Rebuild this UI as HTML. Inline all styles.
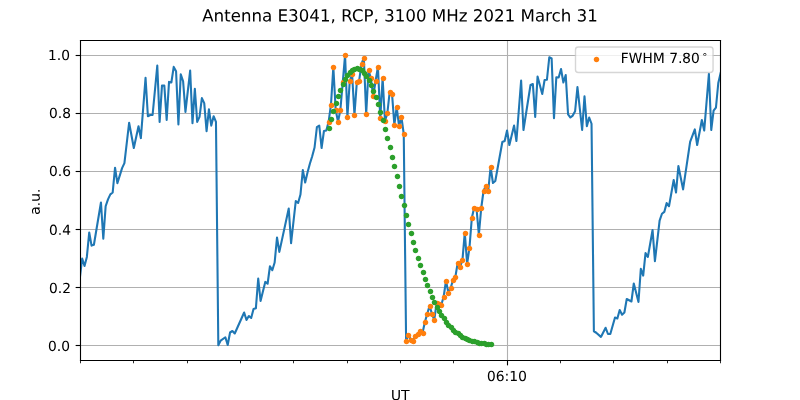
<!DOCTYPE html>
<html><head><meta charset="utf-8"><title>Antenna E3041</title>
<style>html,body{margin:0;padding:0;background:#fff;width:800px;height:400px;overflow:hidden}svg{display:block}</style>
</head><body>
<svg width="800" height="400" role="img" aria-label="Antenna E3041, RCP, 3100 MHz 2021 March 31 chart" viewBox="0 0 576 288" version="1.1">
<defs>
<style type="text/css">*{stroke-linejoin: round; stroke-linecap: butt}</style>
</defs>
<g id="figure_1">
<g id="patch_1">
<path d="M 0 288
L 576 288
L 576 0
L 0 0
z
" style="fill: #ffffff"/>
</g>
<g id="axes_1">
<g id="patch_2">
<path d="M 57.6 259.2
L 518.4 259.2
L 518.4 28.8
L 57.6 28.8
z
" style="fill: #ffffff"/>
</g>
<g id="matplotlib.axis_1">
<g id="xtick_1">
<g id="line2d_1">
<path d="M 365.4 259.56
L 365.4 29.16
" clip-path="url(#p7c551a3742)" style="fill: none; stroke: #b0b0b0; stroke-width: 0.8; stroke-linecap: square"/>
</g>
<g id="line2d_2">
<defs>
<path id="m0472bd3b97" d="M 0 0
L 0 3.5
" style="stroke: #000000; stroke-width: 0.8"/>
</defs>
<g>
<use href="#m0472bd3b97" x="365.4" y="259.56" style="stroke: #000000; stroke-width: 0.8"/>
</g>
</g>
<g id="text_1" aria-label="06:10"><title>06:10</title>
<g transform="translate(350.5706 274.3384) scale(0.1 -0.1)">
<defs>
<path id="DejaVuSans-30" d="M 2034 4250
Q 1547 4250 1301 3770
Q 1056 3291 1056 2328
Q 1056 1369 1301 889
Q 1547 409 2034 409
Q 2525 409 2770 889
Q 3016 1369 3016 2328
Q 3016 3291 2770 3770
Q 2525 4250 2034 4250
z
M 2034 4750
Q 2819 4750 3233 4129
Q 3647 3509 3647 2328
Q 3647 1150 3233 529
Q 2819 -91 2034 -91
Q 1250 -91 836 529
Q 422 1150 422 2328
Q 422 3509 836 4129
Q 1250 4750 2034 4750
z
" transform="scale(0.015625)"/>
<path id="DejaVuSans-36" d="M 2113 2584
Q 1688 2584 1439 2293
Q 1191 2003 1191 1497
Q 1191 994 1439 701
Q 1688 409 2113 409
Q 2538 409 2786 701
Q 3034 994 3034 1497
Q 3034 2003 2786 2293
Q 2538 2584 2113 2584
z
M 3366 4563
L 3366 3988
Q 3128 4100 2886 4159
Q 2644 4219 2406 4219
Q 1781 4219 1451 3797
Q 1122 3375 1075 2522
Q 1259 2794 1537 2939
Q 1816 3084 2150 3084
Q 2853 3084 3261 2657
Q 3669 2231 3669 1497
Q 3669 778 3244 343
Q 2819 -91 2113 -91
Q 1303 -91 875 529
Q 447 1150 447 2328
Q 447 3434 972 4092
Q 1497 4750 2381 4750
Q 2619 4750 2861 4703
Q 3103 4656 3366 4563
z
" transform="scale(0.015625)"/>
<path id="DejaVuSans-3a" d="M 750 794
L 1409 794
L 1409 0
L 750 0
L 750 794
z
M 750 3309
L 1409 3309
L 1409 2516
L 750 2516
L 750 3309
z
" transform="scale(0.015625)"/>
<path id="DejaVuSans-31" d="M 794 531
L 1825 531
L 1825 4091
L 703 3866
L 703 4441
L 1819 4666
L 2450 4666
L 2450 531
L 3481 531
L 3481 0
L 794 0
L 794 531
z
" transform="scale(0.015625)"/>
</defs>
<use href="#DejaVuSans-30"/>
<use href="#DejaVuSans-36" transform="translate(63.623047 0)"/>
<use href="#DejaVuSans-3a" transform="translate(127.246094 0)"/>
<use href="#DejaVuSans-31" transform="translate(160.9375 0)"/>
<use href="#DejaVuSans-30" transform="translate(224.560547 0)"/>
</g>
</g>
</g>
<g id="xtick_2">
<g id="line2d_3">
<defs>
<path id="m4685874735" d="M 0 0
L 0 2
" style="stroke: #000000; stroke-width: 0.6"/>
</defs>
<g>
<use href="#m4685874735" x="57.96" y="259.56" style="stroke: #000000; stroke-width: 0.6"/>
</g>
</g>
</g>
<g id="xtick_3">
<g id="line2d_4">
<g>
<use href="#m4685874735" x="96.12" y="259.56" style="stroke: #000000; stroke-width: 0.6"/>
</g>
</g>
</g>
<g id="xtick_4">
<g id="line2d_5">
<g>
<use href="#m4685874735" x="135" y="259.56" style="stroke: #000000; stroke-width: 0.6"/>
</g>
</g>
</g>
<g id="xtick_5">
<g id="line2d_6">
<g>
<use href="#m4685874735" x="173.16" y="259.56" style="stroke: #000000; stroke-width: 0.6"/>
</g>
</g>
</g>
<g id="xtick_6">
<g id="line2d_7">
<g>
<use href="#m4685874735" x="211.32" y="259.56" style="stroke: #000000; stroke-width: 0.6"/>
</g>
</g>
</g>
<g id="xtick_7">
<g id="line2d_8">
<g>
<use href="#m4685874735" x="250.2" y="259.56" style="stroke: #000000; stroke-width: 0.6"/>
</g>
</g>
</g>
<g id="xtick_8">
<g id="line2d_9">
<g>
<use href="#m4685874735" x="288.36" y="259.56" style="stroke: #000000; stroke-width: 0.6"/>
</g>
</g>
</g>
<g id="xtick_9">
<g id="line2d_10">
<g>
<use href="#m4685874735" x="326.52" y="259.56" style="stroke: #000000; stroke-width: 0.6"/>
</g>
</g>
</g>
<g id="xtick_10">
<g id="line2d_11">
<g>
<use href="#m4685874735" x="403.56" y="259.56" style="stroke: #000000; stroke-width: 0.6"/>
</g>
</g>
</g>
<g id="xtick_11">
<g id="line2d_12">
<g>
<use href="#m4685874735" x="441.72" y="259.56" style="stroke: #000000; stroke-width: 0.6"/>
</g>
</g>
</g>
<g id="xtick_12">
<g id="line2d_13">
<g>
<use href="#m4685874735" x="480.6" y="259.56" style="stroke: #000000; stroke-width: 0.6"/>
</g>
</g>
</g>
<g id="xtick_13">
<g id="line2d_14">
<g>
<use href="#m4685874735" x="518.76" y="259.56" style="stroke: #000000; stroke-width: 0.6"/>
</g>
</g>
</g>
<g id="text_2" aria-label="UT"><title>UT</title>
<g transform="translate(281.4667 288.0166) scale(0.1 -0.1)">
<defs>
<path id="DejaVuSans-55" d="M 556 4666
L 1191 4666
L 1191 1831
Q 1191 1081 1462 751
Q 1734 422 2344 422
Q 2950 422 3222 751
Q 3494 1081 3494 1831
L 3494 4666
L 4128 4666
L 4128 1753
Q 4128 841 3676 375
Q 3225 -91 2344 -91
Q 1459 -91 1007 375
Q 556 841 556 1753
L 556 4666
z
" transform="scale(0.015625)"/>
<path id="DejaVuSans-54" d="M -19 4666
L 3928 4666
L 3928 4134
L 2272 4134
L 2272 0
L 1638 0
L 1638 4134
L -19 4134
L -19 4666
z
" transform="scale(0.015625)"/>
</defs>
<use href="#DejaVuSans-55"/>
<use href="#DejaVuSans-54" transform="translate(73.193359 0)"/>
</g>
</g>
</g>
<g id="matplotlib.axis_2">
<g id="ytick_1">
<g id="line2d_15">
<path d="M 57.96 248.76
L 518.76 248.76
" clip-path="url(#p7c551a3742)" style="fill: none; stroke: #b0b0b0; stroke-width: 0.8; stroke-linecap: square"/>
</g>
<g id="line2d_16">
<defs>
<path id="m8931611dd1" d="M 0 0
L -3.5 0
" style="stroke: #000000; stroke-width: 0.8"/>
</defs>
<g>
<use href="#m8931611dd1" x="57.96" y="248.76" style="stroke: #000000; stroke-width: 0.8"/>
</g>
</g>
<g id="text_3" aria-label="0.0"><title>0.0</title>
<g transform="translate(34.5169 252.7065) scale(0.1 -0.1)">
<defs>
<path id="DejaVuSans-2e" d="M 684 794
L 1344 794
L 1344 0
L 684 0
L 684 794
z
" transform="scale(0.015625)"/>
</defs>
<use href="#DejaVuSans-30"/>
<use href="#DejaVuSans-2e" transform="translate(63.623047 0)"/>
<use href="#DejaVuSans-30" transform="translate(95.410156 0)"/>
</g>
</g>
</g>
<g id="ytick_2">
<g id="line2d_17">
<path d="M 57.96 207
L 518.76 207
" clip-path="url(#p7c551a3742)" style="fill: none; stroke: #b0b0b0; stroke-width: 0.8; stroke-linecap: square"/>
</g>
<g id="line2d_18">
<g>
<use href="#m8931611dd1" x="57.96" y="207" style="stroke: #000000; stroke-width: 0.8"/>
</g>
</g>
<g id="text_4" aria-label="0.2"><title>0.2</title>
<g transform="translate(35.2369 210.9956) scale(0.1 -0.1)">
<defs>
<path id="DejaVuSans-32" d="M 1228 531
L 3431 531
L 3431 0
L 469 0
L 469 531
Q 828 903 1448 1529
Q 2069 2156 2228 2338
Q 2531 2678 2651 2914
Q 2772 3150 2772 3378
Q 2772 3750 2511 3984
Q 2250 4219 1831 4219
Q 1534 4219 1204 4116
Q 875 4013 500 3803
L 500 4441
Q 881 4594 1212 4672
Q 1544 4750 1819 4750
Q 2544 4750 2975 4387
Q 3406 4025 3406 3419
Q 3406 3131 3298 2873
Q 3191 2616 2906 2266
Q 2828 2175 2409 1742
Q 1991 1309 1228 531
z
" transform="scale(0.015625)"/>
</defs>
<use href="#DejaVuSans-30"/>
<use href="#DejaVuSans-2e" transform="translate(63.623047 0)"/>
<use href="#DejaVuSans-32" transform="translate(95.410156 0)"/>
</g>
</g>
</g>
<g id="ytick_3">
<g id="line2d_19">
<path d="M 57.96 165.24
L 518.76 165.24
" clip-path="url(#p7c551a3742)" style="fill: none; stroke: #b0b0b0; stroke-width: 0.8; stroke-linecap: square"/>
</g>
<g id="line2d_20">
<g>
<use href="#m8931611dd1" x="57.96" y="165.24" style="stroke: #000000; stroke-width: 0.8"/>
</g>
</g>
<g id="text_5" aria-label="0.4"><title>0.4</title>
<g transform="translate(35.2369 169.1047) scale(0.1 -0.1)">
<defs>
<path id="DejaVuSans-34" d="M 2419 4116
L 825 1625
L 2419 1625
L 2419 4116
z
M 2253 4666
L 3047 4666
L 3047 1625
L 3713 1625
L 3713 1100
L 3047 1100
L 3047 0
L 2419 0
L 2419 1100
L 313 1100
L 313 1709
L 2253 4666
z
" transform="scale(0.015625)"/>
</defs>
<use href="#DejaVuSans-30"/>
<use href="#DejaVuSans-2e" transform="translate(63.623047 0)"/>
<use href="#DejaVuSans-34" transform="translate(95.410156 0)"/>
</g>
</g>
</g>
<g id="ytick_4">
<g id="line2d_21">
<path d="M 57.96 123.48
L 518.76 123.48
" clip-path="url(#p7c551a3742)" style="fill: none; stroke: #b0b0b0; stroke-width: 0.8; stroke-linecap: square"/>
</g>
<g id="line2d_22">
<g>
<use href="#m8931611dd1" x="57.96" y="123.48" style="stroke: #000000; stroke-width: 0.8"/>
</g>
</g>
<g id="text_6" aria-label="0.6"><title>0.6</title>
<g transform="translate(35.2369 126.6738) scale(0.1 -0.1)">
<use href="#DejaVuSans-30"/>
<use href="#DejaVuSans-2e" transform="translate(63.623047 0)"/>
<use href="#DejaVuSans-36" transform="translate(95.410156 0)"/>
</g>
</g>
</g>
<g id="ytick_5">
<g id="line2d_23">
<path d="M 57.96 81.72
L 518.76 81.72
" clip-path="url(#p7c551a3742)" style="fill: none; stroke: #b0b0b0; stroke-width: 0.8; stroke-linecap: square"/>
</g>
<g id="line2d_24">
<g>
<use href="#m8931611dd1" x="57.96" y="81.72" style="stroke: #000000; stroke-width: 0.8"/>
</g>
</g>
<g id="text_7" aria-label="0.8"><title>0.8</title>
<g transform="translate(35.2369 84.9629) scale(0.1 -0.1)">
<defs>
<path id="DejaVuSans-38" d="M 2034 2216
Q 1584 2216 1326 1975
Q 1069 1734 1069 1313
Q 1069 891 1326 650
Q 1584 409 2034 409
Q 2484 409 2743 651
Q 3003 894 3003 1313
Q 3003 1734 2745 1975
Q 2488 2216 2034 2216
z
M 1403 2484
Q 997 2584 770 2862
Q 544 3141 544 3541
Q 544 4100 942 4425
Q 1341 4750 2034 4750
Q 2731 4750 3128 4425
Q 3525 4100 3525 3541
Q 3525 3141 3298 2862
Q 3072 2584 2669 2484
Q 3125 2378 3379 2068
Q 3634 1759 3634 1313
Q 3634 634 3220 271
Q 2806 -91 2034 -91
Q 1263 -91 848 271
Q 434 634 434 1313
Q 434 1759 690 2068
Q 947 2378 1403 2484
z
M 1172 3481
Q 1172 3119 1398 2916
Q 1625 2713 2034 2713
Q 2441 2713 2670 2916
Q 2900 3119 2900 3481
Q 2900 3844 2670 4047
Q 2441 4250 2034 4250
Q 1625 4250 1398 4047
Q 1172 3844 1172 3481
z
" transform="scale(0.015625)"/>
</defs>
<use href="#DejaVuSans-30"/>
<use href="#DejaVuSans-2e" transform="translate(63.623047 0)"/>
<use href="#DejaVuSans-38" transform="translate(95.410156 0)"/>
</g>
</g>
</g>
<g id="ytick_6">
<g id="line2d_25">
<path d="M 57.96 39.96
L 518.76 39.96
" clip-path="url(#p7c551a3742)" style="fill: none; stroke: #b0b0b0; stroke-width: 0.8; stroke-linecap: square"/>
</g>
<g id="line2d_26">
<g>
<use href="#m8931611dd1" x="57.96" y="39.96" style="stroke: #000000; stroke-width: 0.8"/>
</g>
</g>
<g id="text_8" aria-label="1.0"><title>1.0</title>
<g transform="translate(34.5169 43.2519) scale(0.1 -0.1)">
<use href="#DejaVuSans-31"/>
<use href="#DejaVuSans-2e" transform="translate(63.623047 0)"/>
<use href="#DejaVuSans-30" transform="translate(95.410156 0)"/>
</g>
</g>
</g>
<g id="text_9" aria-label="a.u."><title>a.u.</title>
<g transform="translate(28.6172 154.6709) rotate(-90) scale(0.1 -0.1)">
<defs>
<path id="DejaVuSans-61" d="M 2194 1759
Q 1497 1759 1228 1600
Q 959 1441 959 1056
Q 959 750 1161 570
Q 1363 391 1709 391
Q 2188 391 2477 730
Q 2766 1069 2766 1631
L 2766 1759
L 2194 1759
z
M 3341 1997
L 3341 0
L 2766 0
L 2766 531
Q 2569 213 2275 61
Q 1981 -91 1556 -91
Q 1019 -91 701 211
Q 384 513 384 1019
Q 384 1609 779 1909
Q 1175 2209 1959 2209
L 2766 2209
L 2766 2266
Q 2766 2663 2505 2880
Q 2244 3097 1772 3097
Q 1472 3097 1187 3025
Q 903 2953 641 2809
L 641 3341
Q 956 3463 1253 3523
Q 1550 3584 1831 3584
Q 2591 3584 2966 3190
Q 3341 2797 3341 1997
z
" transform="scale(0.015625)"/>
<path id="DejaVuSans-75" d="M 544 1381
L 544 3500
L 1119 3500
L 1119 1403
Q 1119 906 1312 657
Q 1506 409 1894 409
Q 2359 409 2629 706
Q 2900 1003 2900 1516
L 2900 3500
L 3475 3500
L 3475 0
L 2900 0
L 2900 538
Q 2691 219 2414 64
Q 2138 -91 1772 -91
Q 1169 -91 856 284
Q 544 659 544 1381
z
M 1991 3584
L 1991 3584
z
" transform="scale(0.015625)"/>
</defs>
<use href="#DejaVuSans-61"/>
<use href="#DejaVuSans-2e" transform="translate(61.279297 0)"/>
<use href="#DejaVuSans-75" transform="translate(93.066406 0)"/>
<use href="#DejaVuSans-2e" transform="translate(156.445312 0)"/>
</g>
</g>
</g>
<g id="line2d_27">
<path d="M 57.474 200.160018
L 59.164056 186.120013
L 60.854112 191.520015
L 62.544168 184.968013
L 64.234224 167.400007
L 65.92428 176.83201
L 67.614336 176.22001
L 72.684504 145.800001
L 74.37456 171.900009
L 76.064616 148.500001
L 77.754672 143.568
L 79.444728 139.967999
L 81.134784 138.599998
L 82.82484 120.779993
L 84.514896 131.831996
L 87.895008 121.031993
L 89.585064 117.431992
L 92.965176 88.379983
L 96.345288 106.559988
L 99.7254 90.899983
L 101.415456 99.431986
L 104.795568 55.979972
L 106.485624 83.699981
L 108.17568 82.799981
L 109.865736 82.799981
L 113.245848 47.23197
L 114.935904 87.767982
L 116.62596 61.631974
L 118.316016 61.631974
L 120.006072 86.399982
L 121.696128 58.967973
L 123.386184 59.399974
L 125.07624 48.16797
L 126.766296 51.299971
L 128.456352 89.567983
L 130.146408 53.567972
L 131.836464 58.499973
L 133.52652 80.56798
L 136.906632 50.831971
L 138.596688 88.631983
L 140.286744 63.899975
L 141.9768 87.767982
L 143.666856 84.167981
L 145.356912 70.631977
L 147.046968 74.231978
L 148.737024 94.499985
L 150.42708 78.76798
L 152.117136 90.431983
L 153.807192 83.699981
L 155.497248 87.767982
L 157.187304 248.580033
L 158.87736 245.232032
L 162.257472 242.820031
L 163.947528 248.400033
L 165.637584 239.40003
L 167.32764 238.320029
L 169.017696 240.12003
L 175.77792 225.000025
L 177.467976 230.400027
L 179.158032 227.520026
L 180.848088 228.960027
L 182.538144 222.480025
L 184.2282 221.976024
L 185.918256 200.520018
L 187.608312 216.720023
L 190.988424 202.968018
L 192.67848 204.300019
L 194.368536 191.700015
L 196.058592 194.580016
L 197.748648 189.000014
L 199.438704 171.000008
L 201.12876 181.368012
L 207.888984 150.120002
L 209.57904 175.03201
L 212.959152 144.72
L 214.649208 146.160001
L 216.339264 140.039999
L 218.02932 122.399993
L 219.719376 131.399996
L 221.409432 124.199994
L 223.099488 117.899992
L 224.789544 112.49999
L 226.4796 106.199988
L 228.169656 91.583984
L 229.859712 90.359983
L 231.549768 106.559988
L 233.239824 94.319984
L 234.92988 93.959984
L 236.619936 87.623982
L 238.309992 75.383979
L 240.000048 48.23997
L 241.690104 79.19998
L 243.38016 87.623982
L 245.070216 79.19998
L 248.450328 39.599967
L 250.140384 84.023981
L 251.83044 58.319973
L 253.520496 53.495972
L 255.210552 82.727981
L 256.900608 59.399974
L 258.590664 58.103973
L 260.28072 46.079969
L 261.970776 41.759968
L 263.660832 82.079981
L 265.350888 50.399971
L 267.040944 56.519973
L 268.731 69.119977
L 270.421056 58.319973
L 272.111112 48.23997
L 273.801168 85.319982
L 275.491224 56.159973
L 277.18128 87.119982
L 278.871336 81.719981
L 280.561392 66.239976
L 282.251448 67.463976
L 283.941504 89.855983
L 285.63156 77.039979
L 287.321616 91.079983
L 289.011672 84.239981
L 290.701728 96.479985
L 292.391784 245.340032
L 294.08184 241.12803
L 295.771896 244.620031
L 297.461952 245.340032
L 299.152008 241.920031
L 300.842064 240.40803
L 302.53212 238.60803
L 304.222176 239.76003
L 305.912232 231.840027
L 309.292344 220.140024
L 310.9824 226.008026
L 312.672456 230.220027
L 314.362512 218.340023
L 317.742624 219.420024
L 319.43268 213.660022
L 321.122736 202.140018
L 322.812792 210.672021
L 324.502848 207.36002
L 326.192904 201.420018
L 327.88296 199.260017
L 329.573016 189.072014
L 331.263072 192.060015
L 332.953128 187.272014
L 334.643184 167.472007
L 336.33324 190.008014
L 338.023296 178.272011
L 339.713352 156.960004
L 341.403408 149.472002
L 343.093464 150.120002
L 344.78352 169.020008
L 346.473576 149.940002
L 348.163632 137.339998
L 349.853688 133.739997
L 351.543744 137.339998
L 353.2338 120.239993
L 354.923856 131.759996
L 356.613912 130.319996
L 361.68408 102.239987
L 363.374136 101.519987
L 365.064192 93.959984
L 366.754248 104.399988
L 370.13436 90.431983
L 371.824416 101.519987
L 375.204528 57.959973
L 376.894584 93.599984
L 381.964752 61.199974
L 383.654808 60.479974
L 385.344864 84.167981
L 387.03492 55.079972
L 390.415032 67.679976
L 392.105088 57.599973
L 393.795144 57.419973
L 395.4852 41.219968
L 397.175256 42.119968
L 398.865312 85.031982
L 400.555368 55.619972
L 402.245424 55.799972
L 403.93548 49.679971
L 405.625536 59.399974
L 407.315592 53.999972
L 409.005648 82.367981
L 410.695704 84.599981
L 412.38576 83.231981
L 414.075816 80.09998
L 415.765872 62.639975
L 419.145984 93.599984
L 420.83604 69.299977
L 422.526096 90.899983
L 424.216152 84.599981
L 425.906208 89.099983
L 427.596264 238.50003
L 429.28632 239.58003
L 432.666432 242.568031
L 436.046544 235.980029
L 437.7366 240.48003
L 439.426656 240.48003
L 442.806768 228.600026
L 444.496824 229.320027
L 446.18688 223.200025
L 447.876936 226.620026
L 449.566992 225.000025
L 451.257048 215.280022
L 454.63716 217.080023
L 456.327216 204.120019
L 459.707328 217.368023
L 461.397384 193.500015
L 463.08744 198.432017
L 464.777496 182.232012
L 466.467552 184.968013
L 469.847664 165.600007
L 471.53772 188.100014
L 474.917832 158.832005
L 476.607888 153.900003
L 478.297944 152.568003
L 479.988 146.250001
L 481.678056 148.500001
L 485.058168 129.599995
L 486.748224 138.599998
L 488.43828 119.519992
L 491.818392 136.367998
L 496.88856 102.167987
L 500.268672 93.167984
L 501.958728 104.399988
L 505.33884 86.399982
L 507.028896 94.031984
L 510.409008 53.099972
L 512.099064 93.599984
L 513.78912 79.63198
L 515.479176 77.471979
L 517.169232 59.759974
L 518.859288 52.559971
L 518.859288 52.559971
" clip-path="url(#p7c551a3742)" style="fill: none; stroke: #1f77b4; stroke-width: 1.5; stroke-linecap: square"/>
</g>
<g id="line2d_28">
<defs>
<path id="mf9a46fe128" d="M 0 1.5
C 0.397805 1.5 0.77937 1.341951 1.06066 1.06066
C 1.341951 0.77937 1.5 0.397805 1.5 0
C 1.5 -0.397805 1.341951 -0.77937 1.06066 -1.06066
C 0.77937 -1.341951 0.397805 -1.5 0 -1.5
C -0.397805 -1.5 -0.77937 -1.341951 -1.06066 -1.06066
C -1.341951 -0.77937 -1.5 -0.397805 -1.5 0
C -1.5 0.397805 -1.341951 0.77937 -1.06066 1.06066
C -0.77937 1.341951 -0.397805 1.5 0 1.5
z
" style="stroke: #ff7f0e"/>
</defs>
<g clip-path="url(#p7c551a3742)">
<use href="#mf9a46fe128" x="237.24" y="88.2" style="fill: #ff7f0e; stroke: #ff7f0e"/>
<use href="#mf9a46fe128" x="238.68" y="75.96" style="fill: #ff7f0e; stroke: #ff7f0e"/>
<use href="#mf9a46fe128" x="240.12" y="48.6" style="fill: #ff7f0e; stroke: #ff7f0e"/>
<use href="#mf9a46fe128" x="242.28" y="79.56" style="fill: #ff7f0e; stroke: #ff7f0e"/>
<use href="#mf9a46fe128" x="243.72" y="88.2" style="fill: #ff7f0e; stroke: #ff7f0e"/>
<use href="#mf9a46fe128" x="245.16" y="79.56" style="fill: #ff7f0e; stroke: #ff7f0e"/>
<use href="#mf9a46fe128" x="247.32" y="59.4" style="fill: #ff7f0e; stroke: #ff7f0e"/>
<use href="#mf9a46fe128" x="248.76" y="39.96" style="fill: #ff7f0e; stroke: #ff7f0e"/>
<use href="#mf9a46fe128" x="250.2" y="84.6" style="fill: #ff7f0e; stroke: #ff7f0e"/>
<use href="#mf9a46fe128" x="252.36" y="58.68" style="fill: #ff7f0e; stroke: #ff7f0e"/>
<use href="#mf9a46fe128" x="253.8" y="53.64" style="fill: #ff7f0e; stroke: #ff7f0e"/>
<use href="#mf9a46fe128" x="255.24" y="83.16" style="fill: #ff7f0e; stroke: #ff7f0e"/>
<use href="#mf9a46fe128" x="257.4" y="59.4" style="fill: #ff7f0e; stroke: #ff7f0e"/>
<use href="#mf9a46fe128" x="258.84" y="58.68" style="fill: #ff7f0e; stroke: #ff7f0e"/>
<use href="#mf9a46fe128" x="261" y="46.44" style="fill: #ff7f0e; stroke: #ff7f0e"/>
<use href="#mf9a46fe128" x="262.44" y="42.12" style="fill: #ff7f0e; stroke: #ff7f0e"/>
<use href="#mf9a46fe128" x="263.88" y="82.44" style="fill: #ff7f0e; stroke: #ff7f0e"/>
<use href="#mf9a46fe128" x="266.04" y="50.76" style="fill: #ff7f0e; stroke: #ff7f0e"/>
<use href="#mf9a46fe128" x="267.48" y="56.52" style="fill: #ff7f0e; stroke: #ff7f0e"/>
<use href="#mf9a46fe128" x="268.92" y="69.48" style="fill: #ff7f0e; stroke: #ff7f0e"/>
<use href="#mf9a46fe128" x="271.08" y="58.68" style="fill: #ff7f0e; stroke: #ff7f0e"/>
<use href="#mf9a46fe128" x="272.52" y="48.6" style="fill: #ff7f0e; stroke: #ff7f0e"/>
<use href="#mf9a46fe128" x="273.96" y="85.32" style="fill: #ff7f0e; stroke: #ff7f0e"/>
<use href="#mf9a46fe128" x="276.12" y="56.52" style="fill: #ff7f0e; stroke: #ff7f0e"/>
<use href="#mf9a46fe128" x="277.56" y="87.48" style="fill: #ff7f0e; stroke: #ff7f0e"/>
<use href="#mf9a46fe128" x="279" y="81.72" style="fill: #ff7f0e; stroke: #ff7f0e"/>
<use href="#mf9a46fe128" x="281.16" y="66.6" style="fill: #ff7f0e; stroke: #ff7f0e"/>
<use href="#mf9a46fe128" x="282.6" y="68.04" style="fill: #ff7f0e; stroke: #ff7f0e"/>
<use href="#mf9a46fe128" x="284.04" y="90.36" style="fill: #ff7f0e; stroke: #ff7f0e"/>
<use href="#mf9a46fe128" x="286.2" y="77.4" style="fill: #ff7f0e; stroke: #ff7f0e"/>
<use href="#mf9a46fe128" x="287.64" y="91.08" style="fill: #ff7f0e; stroke: #ff7f0e"/>
<use href="#mf9a46fe128" x="289.08" y="84.6" style="fill: #ff7f0e; stroke: #ff7f0e"/>
<use href="#mf9a46fe128" x="291.24" y="96.84" style="fill: #ff7f0e; stroke: #ff7f0e"/>
<use href="#mf9a46fe128" x="292.68" y="245.88" style="fill: #ff7f0e; stroke: #ff7f0e"/>
<use href="#mf9a46fe128" x="294.12" y="241.56" style="fill: #ff7f0e; stroke: #ff7f0e"/>
<use href="#mf9a46fe128" x="296.28" y="245.16" style="fill: #ff7f0e; stroke: #ff7f0e"/>
<use href="#mf9a46fe128" x="297.72" y="245.88" style="fill: #ff7f0e; stroke: #ff7f0e"/>
<use href="#mf9a46fe128" x="299.16" y="242.28" style="fill: #ff7f0e; stroke: #ff7f0e"/>
<use href="#mf9a46fe128" x="301.32" y="240.84" style="fill: #ff7f0e; stroke: #ff7f0e"/>
<use href="#mf9a46fe128" x="302.76" y="238.68" style="fill: #ff7f0e; stroke: #ff7f0e"/>
<use href="#mf9a46fe128" x="304.92" y="240.12" style="fill: #ff7f0e; stroke: #ff7f0e"/>
<use href="#mf9a46fe128" x="306.36" y="232.2" style="fill: #ff7f0e; stroke: #ff7f0e"/>
<use href="#mf9a46fe128" x="307.8" y="226.44" style="fill: #ff7f0e; stroke: #ff7f0e"/>
<use href="#mf9a46fe128" x="309.96" y="220.68" style="fill: #ff7f0e; stroke: #ff7f0e"/>
<use href="#mf9a46fe128" x="311.4" y="226.44" style="fill: #ff7f0e; stroke: #ff7f0e"/>
<use href="#mf9a46fe128" x="312.84" y="230.76" style="fill: #ff7f0e; stroke: #ff7f0e"/>
<use href="#mf9a46fe128" x="315" y="218.52" style="fill: #ff7f0e; stroke: #ff7f0e"/>
<use href="#mf9a46fe128" x="316.44" y="219.24" style="fill: #ff7f0e; stroke: #ff7f0e"/>
<use href="#mf9a46fe128" x="317.88" y="219.96" style="fill: #ff7f0e; stroke: #ff7f0e"/>
<use href="#mf9a46fe128" x="320.04" y="214.2" style="fill: #ff7f0e; stroke: #ff7f0e"/>
<use href="#mf9a46fe128" x="321.48" y="202.68" style="fill: #ff7f0e; stroke: #ff7f0e"/>
<use href="#mf9a46fe128" x="322.92" y="211.32" style="fill: #ff7f0e; stroke: #ff7f0e"/>
<use href="#mf9a46fe128" x="325.08" y="207.72" style="fill: #ff7f0e; stroke: #ff7f0e"/>
<use href="#mf9a46fe128" x="326.52" y="201.96" style="fill: #ff7f0e; stroke: #ff7f0e"/>
<use href="#mf9a46fe128" x="327.96" y="199.8" style="fill: #ff7f0e; stroke: #ff7f0e"/>
<use href="#mf9a46fe128" x="330.12" y="189.72" style="fill: #ff7f0e; stroke: #ff7f0e"/>
<use href="#mf9a46fe128" x="331.56" y="192.6" style="fill: #ff7f0e; stroke: #ff7f0e"/>
<use href="#mf9a46fe128" x="333" y="187.56" style="fill: #ff7f0e; stroke: #ff7f0e"/>
<use href="#mf9a46fe128" x="335.16" y="168.12" style="fill: #ff7f0e; stroke: #ff7f0e"/>
<use href="#mf9a46fe128" x="336.6" y="190.44" style="fill: #ff7f0e; stroke: #ff7f0e"/>
<use href="#mf9a46fe128" x="338.04" y="178.92" style="fill: #ff7f0e; stroke: #ff7f0e"/>
<use href="#mf9a46fe128" x="340.2" y="157.32" style="fill: #ff7f0e; stroke: #ff7f0e"/>
<use href="#mf9a46fe128" x="341.64" y="150.12" style="fill: #ff7f0e; stroke: #ff7f0e"/>
<use href="#mf9a46fe128" x="343.8" y="150.84" style="fill: #ff7f0e; stroke: #ff7f0e"/>
<use href="#mf9a46fe128" x="345.24" y="169.56" style="fill: #ff7f0e; stroke: #ff7f0e"/>
<use href="#mf9a46fe128" x="346.68" y="150.12" style="fill: #ff7f0e; stroke: #ff7f0e"/>
<use href="#mf9a46fe128" x="348.84" y="137.88" style="fill: #ff7f0e; stroke: #ff7f0e"/>
<use href="#mf9a46fe128" x="350.28" y="134.28" style="fill: #ff7f0e; stroke: #ff7f0e"/>
<use href="#mf9a46fe128" x="351.72" y="137.88" style="fill: #ff7f0e; stroke: #ff7f0e"/>
<use href="#mf9a46fe128" x="353.88" y="120.6" style="fill: #ff7f0e; stroke: #ff7f0e"/>
</g>
</g>
<g id="line2d_29">
<defs>
<path id="m9bd40142fb" d="M 0 1.5
C 0.397805 1.5 0.77937 1.341951 1.06066 1.06066
C 1.341951 0.77937 1.5 0.397805 1.5 0
C 1.5 -0.397805 1.341951 -0.77937 1.06066 -1.06066
C 0.77937 -1.341951 0.397805 -1.5 0 -1.5
C -0.397805 -1.5 -0.77937 -1.341951 -1.06066 -1.06066
C -1.341951 -0.77937 -1.5 -0.397805 -1.5 0
C -1.5 0.397805 -1.341951 0.77937 -1.06066 1.06066
C -0.77937 1.341951 -0.397805 1.5 0 1.5
z
" style="stroke: #2ca02c"/>
</defs>
<g clip-path="url(#p7c551a3742)">
<use href="#m9bd40142fb" x="237.24" y="92.52" style="fill: #2ca02c; stroke: #2ca02c"/>
<use href="#m9bd40142fb" x="238.68" y="86.04" style="fill: #2ca02c; stroke: #2ca02c"/>
<use href="#m9bd40142fb" x="240.12" y="80.28" style="fill: #2ca02c; stroke: #2ca02c"/>
<use href="#m9bd40142fb" x="242.28" y="74.52" style="fill: #2ca02c; stroke: #2ca02c"/>
<use href="#m9bd40142fb" x="243.72" y="69.48" style="fill: #2ca02c; stroke: #2ca02c"/>
<use href="#m9bd40142fb" x="245.16" y="65.16" style="fill: #2ca02c; stroke: #2ca02c"/>
<use href="#m9bd40142fb" x="247.32" y="60.84" style="fill: #2ca02c; stroke: #2ca02c"/>
<use href="#m9bd40142fb" x="248.76" y="57.24" style="fill: #2ca02c; stroke: #2ca02c"/>
<use href="#m9bd40142fb" x="250.2" y="54.36" style="fill: #2ca02c; stroke: #2ca02c"/>
<use href="#m9bd40142fb" x="252.36" y="52.2" style="fill: #2ca02c; stroke: #2ca02c"/>
<use href="#m9bd40142fb" x="253.8" y="50.76" style="fill: #2ca02c; stroke: #2ca02c"/>
<use href="#m9bd40142fb" x="255.24" y="50.04" style="fill: #2ca02c; stroke: #2ca02c"/>
<use href="#m9bd40142fb" x="257.4" y="49.32" style="fill: #2ca02c; stroke: #2ca02c"/>
<use href="#m9bd40142fb" x="258.84" y="50.04" style="fill: #2ca02c; stroke: #2ca02c"/>
<use href="#m9bd40142fb" x="261" y="50.76" style="fill: #2ca02c; stroke: #2ca02c"/>
<use href="#m9bd40142fb" x="262.44" y="52.92" style="fill: #2ca02c; stroke: #2ca02c"/>
<use href="#m9bd40142fb" x="263.88" y="55.08" style="fill: #2ca02c; stroke: #2ca02c"/>
<use href="#m9bd40142fb" x="266.04" y="57.96" style="fill: #2ca02c; stroke: #2ca02c"/>
<use href="#m9bd40142fb" x="267.48" y="61.56" style="fill: #2ca02c; stroke: #2ca02c"/>
<use href="#m9bd40142fb" x="268.92" y="65.88" style="fill: #2ca02c; stroke: #2ca02c"/>
<use href="#m9bd40142fb" x="271.08" y="70.2" style="fill: #2ca02c; stroke: #2ca02c"/>
<use href="#m9bd40142fb" x="272.52" y="75.24" style="fill: #2ca02c; stroke: #2ca02c"/>
<use href="#m9bd40142fb" x="273.96" y="81" style="fill: #2ca02c; stroke: #2ca02c"/>
<use href="#m9bd40142fb" x="276.12" y="86.76" style="fill: #2ca02c; stroke: #2ca02c"/>
<use href="#m9bd40142fb" x="277.56" y="93.24" style="fill: #2ca02c; stroke: #2ca02c"/>
<use href="#m9bd40142fb" x="279" y="99.72" style="fill: #2ca02c; stroke: #2ca02c"/>
<use href="#m9bd40142fb" x="281.16" y="106.2" style="fill: #2ca02c; stroke: #2ca02c"/>
<use href="#m9bd40142fb" x="282.6" y="113.4" style="fill: #2ca02c; stroke: #2ca02c"/>
<use href="#m9bd40142fb" x="284.04" y="119.88" style="fill: #2ca02c; stroke: #2ca02c"/>
<use href="#m9bd40142fb" x="286.2" y="127.08" style="fill: #2ca02c; stroke: #2ca02c"/>
<use href="#m9bd40142fb" x="287.64" y="134.28" style="fill: #2ca02c; stroke: #2ca02c"/>
<use href="#m9bd40142fb" x="289.08" y="141.48" style="fill: #2ca02c; stroke: #2ca02c"/>
<use href="#m9bd40142fb" x="291.24" y="147.96" style="fill: #2ca02c; stroke: #2ca02c"/>
<use href="#m9bd40142fb" x="292.68" y="155.16" style="fill: #2ca02c; stroke: #2ca02c"/>
<use href="#m9bd40142fb" x="294.12" y="161.64" style="fill: #2ca02c; stroke: #2ca02c"/>
<use href="#m9bd40142fb" x="296.28" y="168.12" style="fill: #2ca02c; stroke: #2ca02c"/>
<use href="#m9bd40142fb" x="297.72" y="174.6" style="fill: #2ca02c; stroke: #2ca02c"/>
<use href="#m9bd40142fb" x="299.16" y="180.36" style="fill: #2ca02c; stroke: #2ca02c"/>
<use href="#m9bd40142fb" x="301.32" y="186.12" style="fill: #2ca02c; stroke: #2ca02c"/>
<use href="#m9bd40142fb" x="302.76" y="191.16" style="fill: #2ca02c; stroke: #2ca02c"/>
<use href="#m9bd40142fb" x="304.92" y="196.2" style="fill: #2ca02c; stroke: #2ca02c"/>
<use href="#m9bd40142fb" x="306.36" y="201.24" style="fill: #2ca02c; stroke: #2ca02c"/>
<use href="#m9bd40142fb" x="307.8" y="205.56" style="fill: #2ca02c; stroke: #2ca02c"/>
<use href="#m9bd40142fb" x="309.96" y="209.88" style="fill: #2ca02c; stroke: #2ca02c"/>
<use href="#m9bd40142fb" x="311.4" y="214.2" style="fill: #2ca02c; stroke: #2ca02c"/>
<use href="#m9bd40142fb" x="312.84" y="217.8" style="fill: #2ca02c; stroke: #2ca02c"/>
<use href="#m9bd40142fb" x="315" y="221.4" style="fill: #2ca02c; stroke: #2ca02c"/>
<use href="#m9bd40142fb" x="316.44" y="224.28" style="fill: #2ca02c; stroke: #2ca02c"/>
<use href="#m9bd40142fb" x="317.88" y="227.16" style="fill: #2ca02c; stroke: #2ca02c"/>
<use href="#m9bd40142fb" x="320.04" y="229.32" style="fill: #2ca02c; stroke: #2ca02c"/>
<use href="#m9bd40142fb" x="321.48" y="232.2" style="fill: #2ca02c; stroke: #2ca02c"/>
<use href="#m9bd40142fb" x="322.92" y="234.36" style="fill: #2ca02c; stroke: #2ca02c"/>
<use href="#m9bd40142fb" x="325.08" y="235.8" style="fill: #2ca02c; stroke: #2ca02c"/>
<use href="#m9bd40142fb" x="326.52" y="237.96" style="fill: #2ca02c; stroke: #2ca02c"/>
<use href="#m9bd40142fb" x="327.96" y="239.4" style="fill: #2ca02c; stroke: #2ca02c"/>
<use href="#m9bd40142fb" x="330.12" y="240.12" style="fill: #2ca02c; stroke: #2ca02c"/>
<use href="#m9bd40142fb" x="331.56" y="241.56" style="fill: #2ca02c; stroke: #2ca02c"/>
<use href="#m9bd40142fb" x="333" y="243" style="fill: #2ca02c; stroke: #2ca02c"/>
<use href="#m9bd40142fb" x="335.16" y="243.72" style="fill: #2ca02c; stroke: #2ca02c"/>
<use href="#m9bd40142fb" x="336.6" y="244.44" style="fill: #2ca02c; stroke: #2ca02c"/>
<use href="#m9bd40142fb" x="338.04" y="245.16" style="fill: #2ca02c; stroke: #2ca02c"/>
<use href="#m9bd40142fb" x="340.2" y="245.88" style="fill: #2ca02c; stroke: #2ca02c"/>
<use href="#m9bd40142fb" x="341.64" y="245.88" style="fill: #2ca02c; stroke: #2ca02c"/>
<use href="#m9bd40142fb" x="343.8" y="246.6" style="fill: #2ca02c; stroke: #2ca02c"/>
<use href="#m9bd40142fb" x="345.24" y="247.32" style="fill: #2ca02c; stroke: #2ca02c"/>
<use href="#m9bd40142fb" x="346.68" y="247.32" style="fill: #2ca02c; stroke: #2ca02c"/>
<use href="#m9bd40142fb" x="348.84" y="247.32" style="fill: #2ca02c; stroke: #2ca02c"/>
<use href="#m9bd40142fb" x="350.28" y="248.04" style="fill: #2ca02c; stroke: #2ca02c"/>
<use href="#m9bd40142fb" x="351.72" y="248.04" style="fill: #2ca02c; stroke: #2ca02c"/>
<use href="#m9bd40142fb" x="353.88" y="248.04" style="fill: #2ca02c; stroke: #2ca02c"/>
</g>
</g>
<g id="patch_3">
<path d="M 57.96 259.56
L 57.96 29.16
" style="fill: none; stroke: #000000; stroke-width: 0.8; stroke-linejoin: miter; stroke-linecap: square"/>
</g>
<g id="patch_4">
<path d="M 518.76 259.56
L 518.76 29.16
" style="fill: none; stroke: #000000; stroke-width: 0.8; stroke-linejoin: miter; stroke-linecap: square"/>
</g>
<g id="patch_5">
<path d="M 57.96 259.56
L 518.76 259.56
" style="fill: none; stroke: #000000; stroke-width: 0.8; stroke-linejoin: miter; stroke-linecap: square"/>
</g>
<g id="patch_6">
<path d="M 57.96 29.16
L 518.76 29.16
" style="fill: none; stroke: #000000; stroke-width: 0.8; stroke-linejoin: miter; stroke-linecap: square"/>
</g>
<g id="legend_1">
<g id="patch_7">
<path d="M 416.3544 52.2413
L 511.4 52.2413
Q 513.4 52.2413 513.4 50.2413
L 513.4 35.8
Q 513.4 33.8 511.4 33.8
L 416.3544 33.8
Q 414.3544 33.8 414.3544 35.8
L 414.3544 50.2413
Q 414.3544 52.2413 416.3544 52.2413
z
" style="fill: #ffffff; opacity: 0.8; stroke: #cccccc; stroke-linejoin: miter"/>
</g>
<g id="line2d_30">
<g>
<use href="#mf9a46fe128" x="429.48" y="42.84" style="fill: #ff7f0e; stroke: #ff7f0e"/>
</g>
</g>
<g id="text_10" aria-label="FWHM 7.80°"><title>FWHM 7.80°</title>
<g transform="translate(446.88 45.3984) scale(0.1 -0.1)">
<defs>
<path id="DejaVuSans-46" d="M 628 4666
L 3309 4666
L 3309 4134
L 1259 4134
L 1259 2759
L 3109 2759
L 3109 2228
L 1259 2228
L 1259 0
L 628 0
L 628 4666
z
" transform="scale(0.015625)"/>
<path id="DejaVuSans-57" d="M 213 4666
L 850 4666
L 1831 722
L 2809 4666
L 3519 4666
L 4500 722
L 5478 4666
L 6119 4666
L 4947 0
L 4153 0
L 3169 4050
L 2175 0
L 1381 0
L 213 4666
z
" transform="scale(0.015625)"/>
<path id="DejaVuSans-48" d="M 628 4666
L 1259 4666
L 1259 2753
L 3553 2753
L 3553 4666
L 4184 4666
L 4184 0
L 3553 0
L 3553 2222
L 1259 2222
L 1259 0
L 628 0
L 628 4666
z
" transform="scale(0.015625)"/>
<path id="DejaVuSans-4d" d="M 628 4666
L 1569 4666
L 2759 1491
L 3956 4666
L 4897 4666
L 4897 0
L 4281 0
L 4281 4097
L 3078 897
L 2444 897
L 1241 4097
L 1241 0
L 628 0
L 628 4666
z
" transform="scale(0.015625)"/>
<path id="DejaVuSans-20" transform="scale(0.015625)"/>
<path id="DejaVuSans-37" d="M 525 4666
L 3525 4666
L 3525 4397
L 1831 0
L 1172 0
L 2766 4134
L 525 4134
L 525 4666
z
" transform="scale(0.015625)"/>
<path id="DejaVuSans-2218" d="M 2000 2619
Q 1750 2619 1578 2445
Q 1406 2272 1406 2022
Q 1406 1775 1578 1605
Q 1750 1435 2000 1435
Q 2250 1435 2422 1605
Q 2594 1775 2594 2022
Q 2594 2269 2420 2444
Q 2247 2619 2000 2619
z
M 2000 3022
Q 2200 3022 2384 2945
Q 2569 2869 2703 2725
Q 2847 2585 2919 2406
Q 2991 2228 2991 2022
Q 2991 1610 2702 1324
Q 2413 1038 1994 1038
Q 1572 1038 1290 1319
Q 1009 1600 1009 2022
Q 1009 2441 1296 2731
Q 1584 3022 2000 3022
z
" transform="scale(0.015625)"/>
</defs>
<use href="#DejaVuSans-46" transform="translate(0 0.78125)"/>
<use href="#DejaVuSans-57" transform="translate(57.519531 0.78125)"/>
<use href="#DejaVuSans-48" transform="translate(156.396484 0.78125)"/>
<use href="#DejaVuSans-4d" transform="translate(231.591797 0.78125)"/>
<use href="#DejaVuSans-20" transform="translate(317.871094 0.78125)"/>
<use href="#DejaVuSans-37" transform="translate(349.658203 0.78125)"/>
<use href="#DejaVuSans-2e" transform="translate(413.28125 0.78125)"/>
<use href="#DejaVuSans-38" transform="translate(442.443359 0.78125)"/>
<use href="#DejaVuSans-30" transform="translate(506.066406 0.78125)"/>
<use href="#DejaVuSans-2218" transform="translate(584.28418 39.0625) scale(0.7)"/>
</g>
</g>
</g>
</g>
<g id="text_11" aria-label="Antenna E3041, RCP, 3100 MHz 2021 March 31"><title>Antenna E3041, RCP, 3100 MHz 2021 March 31</title>
<g transform="translate(145.5675 15.4181) scale(0.12 -0.12)">
<defs>
<path id="DejaVuSans-41" d="M 2188 4044
L 1331 1722
L 3047 1722
L 2188 4044
z
M 1831 4666
L 2547 4666
L 4325 0
L 3669 0
L 3244 1197
L 1141 1197
L 716 0
L 50 0
L 1831 4666
z
" transform="scale(0.015625)"/>
<path id="DejaVuSans-6e" d="M 3513 2113
L 3513 0
L 2938 0
L 2938 2094
Q 2938 2591 2744 2837
Q 2550 3084 2163 3084
Q 1697 3084 1428 2787
Q 1159 2491 1159 1978
L 1159 0
L 581 0
L 581 3500
L 1159 3500
L 1159 2956
Q 1366 3272 1645 3428
Q 1925 3584 2291 3584
Q 2894 3584 3203 3211
Q 3513 2838 3513 2113
z
" transform="scale(0.015625)"/>
<path id="DejaVuSans-74" d="M 1172 4494
L 1172 3500
L 2356 3500
L 2356 3053
L 1172 3053
L 1172 1153
Q 1172 725 1289 603
Q 1406 481 1766 481
L 2356 481
L 2356 0
L 1766 0
Q 1100 0 847 248
Q 594 497 594 1153
L 594 3053
L 172 3053
L 172 3500
L 594 3500
L 594 4494
L 1172 4494
z
" transform="scale(0.015625)"/>
<path id="DejaVuSans-65" d="M 3597 1894
L 3597 1613
L 953 1613
Q 991 1019 1311 708
Q 1631 397 2203 397
Q 2534 397 2845 478
Q 3156 559 3463 722
L 3463 178
Q 3153 47 2828 -22
Q 2503 -91 2169 -91
Q 1331 -91 842 396
Q 353 884 353 1716
Q 353 2575 817 3079
Q 1281 3584 2069 3584
Q 2775 3584 3186 3129
Q 3597 2675 3597 1894
z
M 3022 2063
Q 3016 2534 2758 2815
Q 2500 3097 2075 3097
Q 1594 3097 1305 2825
Q 1016 2553 972 2059
L 3022 2063
z
" transform="scale(0.015625)"/>
<path id="DejaVuSans-45" d="M 628 4666
L 3578 4666
L 3578 4134
L 1259 4134
L 1259 2753
L 3481 2753
L 3481 2222
L 1259 2222
L 1259 531
L 3634 531
L 3634 0
L 628 0
L 628 4666
z
" transform="scale(0.015625)"/>
<path id="DejaVuSans-33" d="M 2597 2516
Q 3050 2419 3304 2112
Q 3559 1806 3559 1356
Q 3559 666 3084 287
Q 2609 -91 1734 -91
Q 1441 -91 1130 -33
Q 819 25 488 141
L 488 750
Q 750 597 1062 519
Q 1375 441 1716 441
Q 2309 441 2620 675
Q 2931 909 2931 1356
Q 2931 1769 2642 2001
Q 2353 2234 1838 2234
L 1294 2234
L 1294 2753
L 1863 2753
Q 2328 2753 2575 2939
Q 2822 3125 2822 3475
Q 2822 3834 2567 4026
Q 2313 4219 1838 4219
Q 1578 4219 1281 4162
Q 984 4106 628 3988
L 628 4550
Q 988 4650 1302 4700
Q 1616 4750 1894 4750
Q 2613 4750 3031 4423
Q 3450 4097 3450 3541
Q 3450 3153 3228 2886
Q 3006 2619 2597 2516
z
" transform="scale(0.015625)"/>
<path id="DejaVuSans-2c" d="M 750 794
L 1409 794
L 1409 256
L 897 -744
L 494 -744
L 750 256
L 750 794
z
" transform="scale(0.015625)"/>
<path id="DejaVuSans-52" d="M 2841 2188
Q 3044 2119 3236 1894
Q 3428 1669 3622 1275
L 4263 0
L 3584 0
L 2988 1197
Q 2756 1666 2539 1819
Q 2322 1972 1947 1972
L 1259 1972
L 1259 0
L 628 0
L 628 4666
L 2053 4666
Q 2853 4666 3247 4331
Q 3641 3997 3641 3322
Q 3641 2881 3436 2590
Q 3231 2300 2841 2188
z
M 1259 4147
L 1259 2491
L 2053 2491
Q 2509 2491 2742 2702
Q 2975 2913 2975 3322
Q 2975 3731 2742 3939
Q 2509 4147 2053 4147
L 1259 4147
z
" transform="scale(0.015625)"/>
<path id="DejaVuSans-43" d="M 4122 4306
L 4122 3641
Q 3803 3938 3442 4084
Q 3081 4231 2675 4231
Q 1875 4231 1450 3742
Q 1025 3253 1025 2328
Q 1025 1406 1450 917
Q 1875 428 2675 428
Q 3081 428 3442 575
Q 3803 722 4122 1019
L 4122 359
Q 3791 134 3420 21
Q 3050 -91 2638 -91
Q 1578 -91 968 557
Q 359 1206 359 2328
Q 359 3453 968 4101
Q 1578 4750 2638 4750
Q 3056 4750 3426 4639
Q 3797 4528 4122 4306
z
" transform="scale(0.015625)"/>
<path id="DejaVuSans-50" d="M 1259 4147
L 1259 2394
L 2053 2394
Q 2494 2394 2734 2622
Q 2975 2850 2975 3272
Q 2975 3691 2734 3919
Q 2494 4147 2053 4147
L 1259 4147
z
M 628 4666
L 2053 4666
Q 2838 4666 3239 4311
Q 3641 3956 3641 3272
Q 3641 2581 3239 2228
Q 2838 1875 2053 1875
L 1259 1875
L 1259 0
L 628 0
L 628 4666
z
" transform="scale(0.015625)"/>
<path id="DejaVuSans-7a" d="M 353 3500
L 3084 3500
L 3084 2975
L 922 459
L 3084 459
L 3084 0
L 275 0
L 275 525
L 2438 3041
L 353 3041
L 353 3500
z
" transform="scale(0.015625)"/>
<path id="DejaVuSans-72" d="M 2631 2963
Q 2534 3019 2420 3045
Q 2306 3072 2169 3072
Q 1681 3072 1420 2755
Q 1159 2438 1159 1844
L 1159 0
L 581 0
L 581 3500
L 1159 3500
L 1159 2956
Q 1341 3275 1631 3429
Q 1922 3584 2338 3584
Q 2397 3584 2469 3576
Q 2541 3569 2628 3553
L 2631 2963
z
" transform="scale(0.015625)"/>
<path id="DejaVuSans-63" d="M 3122 3366
L 3122 2828
Q 2878 2963 2633 3030
Q 2388 3097 2138 3097
Q 1578 3097 1268 2742
Q 959 2388 959 1747
Q 959 1106 1268 751
Q 1578 397 2138 397
Q 2388 397 2633 464
Q 2878 531 3122 666
L 3122 134
Q 2881 22 2623 -34
Q 2366 -91 2075 -91
Q 1284 -91 818 406
Q 353 903 353 1747
Q 353 2603 823 3093
Q 1294 3584 2113 3584
Q 2378 3584 2631 3529
Q 2884 3475 3122 3366
z
" transform="scale(0.015625)"/>
<path id="DejaVuSans-68" d="M 3513 2113
L 3513 0
L 2938 0
L 2938 2094
Q 2938 2591 2744 2837
Q 2550 3084 2163 3084
Q 1697 3084 1428 2787
Q 1159 2491 1159 1978
L 1159 0
L 581 0
L 581 4863
L 1159 4863
L 1159 2956
Q 1366 3272 1645 3428
Q 1925 3584 2291 3584
Q 2894 3584 3203 3211
Q 3513 2838 3513 2113
z
" transform="scale(0.015625)"/>
</defs>
<use href="#DejaVuSans-41"/>
<use href="#DejaVuSans-6e" transform="translate(68.408203 0)"/>
<use href="#DejaVuSans-74" transform="translate(131.787109 0)"/>
<use href="#DejaVuSans-65" transform="translate(170.996094 0)"/>
<use href="#DejaVuSans-6e" transform="translate(232.519531 0)"/>
<use href="#DejaVuSans-6e" transform="translate(295.898438 0)"/>
<use href="#DejaVuSans-61" transform="translate(359.277344 0)"/>
<use href="#DejaVuSans-20" transform="translate(420.556641 0)"/>
<use href="#DejaVuSans-45" transform="translate(452.34375 0)"/>
<use href="#DejaVuSans-33" transform="translate(515.527344 0)"/>
<use href="#DejaVuSans-30" transform="translate(579.150391 0)"/>
<use href="#DejaVuSans-34" transform="translate(642.773438 0)"/>
<use href="#DejaVuSans-31" transform="translate(706.396484 0)"/>
<use href="#DejaVuSans-2c" transform="translate(770.019531 0)"/>
<use href="#DejaVuSans-20" transform="translate(801.806641 0)"/>
<use href="#DejaVuSans-52" transform="translate(833.59375 0)"/>
<use href="#DejaVuSans-43" transform="translate(898.076172 0)"/>
<use href="#DejaVuSans-50" transform="translate(967.900391 0)"/>
<use href="#DejaVuSans-2c" transform="translate(1028.203125 0)"/>
<use href="#DejaVuSans-20" transform="translate(1059.990234 0)"/>
<use href="#DejaVuSans-33" transform="translate(1091.777344 0)"/>
<use href="#DejaVuSans-31" transform="translate(1155.400391 0)"/>
<use href="#DejaVuSans-30" transform="translate(1219.023438 0)"/>
<use href="#DejaVuSans-30" transform="translate(1282.646484 0)"/>
<use href="#DejaVuSans-20" transform="translate(1346.269531 0)"/>
<use href="#DejaVuSans-4d" transform="translate(1378.056641 0)"/>
<use href="#DejaVuSans-48" transform="translate(1464.335938 0)"/>
<use href="#DejaVuSans-7a" transform="translate(1539.53125 0)"/>
<use href="#DejaVuSans-20" transform="translate(1592.021484 0)"/>
<use href="#DejaVuSans-32" transform="translate(1623.808594 0)"/>
<use href="#DejaVuSans-30" transform="translate(1687.431641 0)"/>
<use href="#DejaVuSans-32" transform="translate(1751.054688 0)"/>
<use href="#DejaVuSans-31" transform="translate(1814.677734 0)"/>
<use href="#DejaVuSans-20" transform="translate(1878.300781 0)"/>
<use href="#DejaVuSans-4d" transform="translate(1910.087891 0)"/>
<use href="#DejaVuSans-61" transform="translate(1996.367188 0)"/>
<use href="#DejaVuSans-72" transform="translate(2057.646484 0)"/>
<use href="#DejaVuSans-63" transform="translate(2096.509766 0)"/>
<use href="#DejaVuSans-68" transform="translate(2151.490234 0)"/>
<use href="#DejaVuSans-20" transform="translate(2214.869141 0)"/>
<use href="#DejaVuSans-33" transform="translate(2246.65625 0)"/>
<use href="#DejaVuSans-31" transform="translate(2310.279297 0)"/>
</g>
</g>
</g>
<defs>
<clipPath id="p7c551a3742">
<rect x="57.6" y="28.8" width="460.8" height="230.4"/>
</clipPath>
</defs>
</svg>

</body></html>
